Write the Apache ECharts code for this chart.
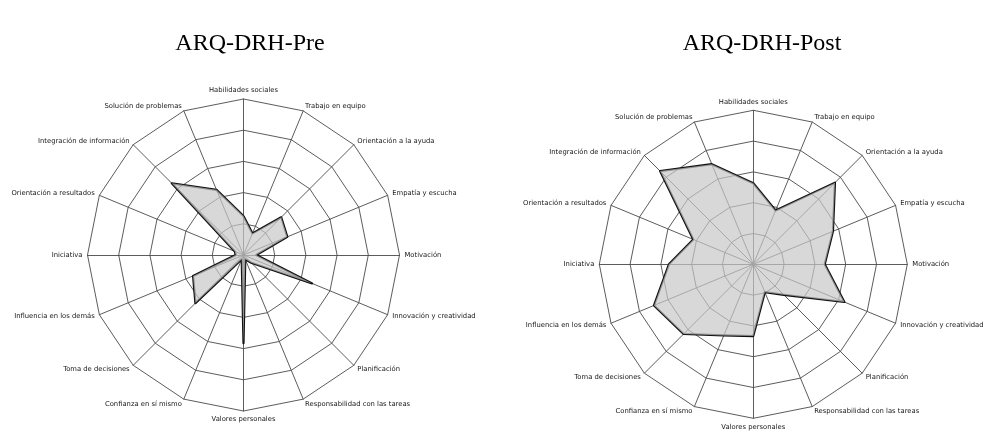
<!DOCTYPE html>
<html><head><meta charset="utf-8">
<script src="https://cdn.jsdelivr.net/npm/echarts@6/dist/echarts.min.js"></script>
<style>html,body{margin:0;padding:0;background:#fff}#c{width:987px;height:432px}</style>
</head><body><div id="c"></div>
<script>
// Competencias, listed clockwise starting at the top
const competencias = ["Habilidades sociales","Trabajo en equipo","Orientación a la ayuda","Empatía y escucha","Motivación","Innovación y creatividad","Planificación","Responsabilidad con las tareas","Valores personales","Confianza en sí mismo","Toma de decisiones","Influencia en los demás","Iniciativa","Orientación a resultados","Integración de información","Solución de problemas"];
const preValues  = [1.25,0.75,1.71,1.52,0.41,2.38,0.35,0.15,2.83,0.15,2.18,1.75,0.25,0.3,3.25,2.26];
const postValues = [2.63,1.89,3.75,2.8,2.32,3.2,1.4,0.98,2.33,2.5,3.2,3.49,2.74,2.11,4.28,3.52];
const titles = ["ARQ-DRH-Pre","ARQ-DRH-Post"];
const scaleMax = 5;

// ECharts radar runs counter-clockwise; reorder clockwise lists for it
function ccw(arr){ return [arr[0]].concat(arr.slice(1).reverse()); }

const chart = echarts.init(document.getElementById('c'), null, {renderer:'canvas'});
function radarCfg(center, radius){
  return {
    center: center, radius: radius, startAngle: 90, splitNumber: 5, shape: 'polygon',
    indicator: ccw(competencias).map(n => ({name: n, min: 0, max: scaleMax})),
    nameGap: 5,
    axisName: {color:'#161616', fontFamily:'DejaVu Sans', fontSize:6.8},
    splitLine: {lineStyle:{color:'#4a4a4a', width:0.9}},
    splitArea: {show:false},
    axisLine: {lineStyle:{color:'#4a4a4a', width:0.9}},
    axisTick: {show:false}, axisLabel: {show:false}
  };
}
function seriesCfg(idx, vals, name){
  return {
    type:'radar', radarIndex: idx, symbol:'none', silent:true,
    lineStyle:{color:'#111', width:2.2},
    areaStyle:{color:'#c8c8c8', opacity:0.7},
    data:[{name:name, value: ccw(vals)}]
  };
}
chart.setOption({
  animation:false,
  backgroundColor:'#fff',
  title: [
    {text: titles[0], left: 245, top: 27, textAlign:'center', textStyle:{fontFamily:'Liberation Serif', fontSize:24, fontWeight:'normal', color:'#000'}},
    {text: titles[1], left: 757, top: 27, textAlign:'center', textStyle:{fontFamily:'Liberation Serif', fontSize:24, fontWeight:'normal', color:'#000'}}
  ],
  radar: [radarCfg([243.5,255],156), radarCfg([753.3,264.3],154)],
  series: [seriesCfg(0, preValues, titles[0]), seriesCfg(1, postValues, titles[1])]
});
</script></body></html>
